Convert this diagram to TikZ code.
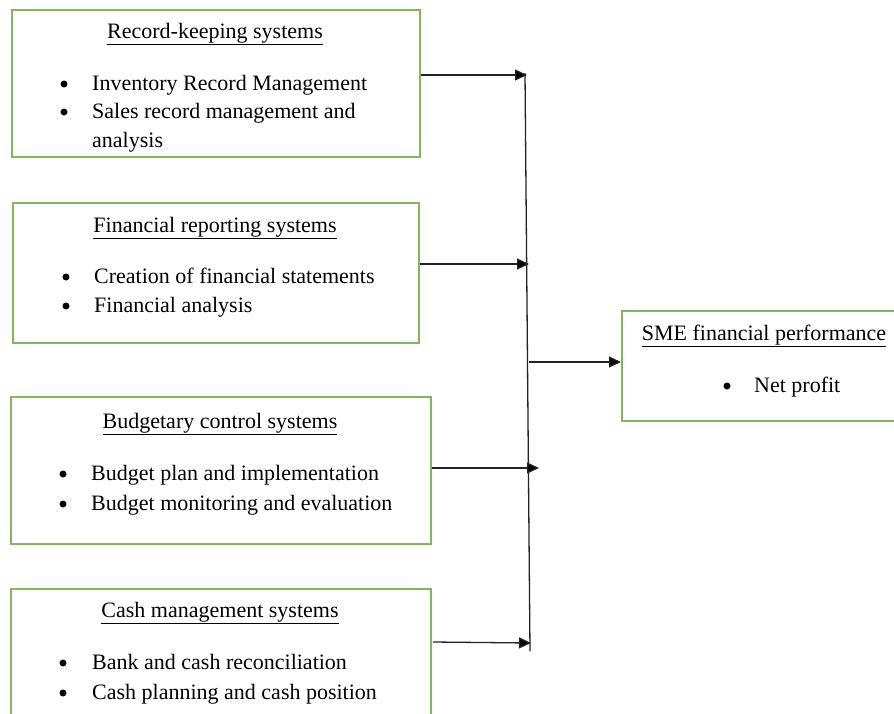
\documentclass[tikz,border=0pt]{standalone}
\usepackage{fontspec}
\setmainfont{Liberation Serif}
\usetikzlibrary{arrows.meta}
\definecolor{boxgreen}{RGB}{128,184,90}
\definecolor{linegray}{RGB}{35,35,35}
\begin{document}
\begin{tikzpicture}[x=1pt,y=-1pt,
  framebox/.style={draw=boxgreen,line width=1.6pt,inner sep=0pt,anchor=north west},
  heading/.style={font=\fontsize{22}{26}\selectfont,anchor=base,inner sep=0pt},
  item/.style={font=\fontsize{22}{26}\selectfont,anchor=base west,inner sep=0pt},
  dot/.style={circle,fill=black,inner sep=0pt,minimum size=7pt},
  link/.style={draw=linegray,line width=1.3pt,-{Triangle[length=12pt,width=11pt,fill=black]}}]
\useasboundingbox (0,0) rectangle (894,713);
\begin{scope}
\clip (0,0) rectangle (894,713);

% input boxes
\node[framebox,minimum width=408pt,minimum height=147pt] (rk) at (11,9) {};
\node[framebox,minimum width=406pt,minimum height=140pt] (fr) at (12,202) {};
\node[framebox,minimum width=420pt,minimum height=147pt] (bc) at (10,396) {};
\node[framebox,minimum width=420pt,minimum height=160pt] (cm) at (10,588) {};
% outcome box
\node[framebox,minimum width=290pt,minimum height=110pt] (sme) at (621,310) {};

% record-keeping systems
\node[heading] (rkh) at (215,38) {\underline{Record-keeping systems}};
\node[dot] (rkd1) at (64,84) {};
\node[item] (rki1) at (92,90) {Inventory Record Management};
\node[dot] (rkd2) at (64,112) {};
\node[item] (rki2) at (92,118) {Sales record management and};
\node[item] (rki3) at (92,147) {analysis};

% financial reporting systems
\node[heading] (frh) at (215,232) {\underline{Financial reporting systems}};
\node[dot] (frd1) at (66,277) {};
\node[item] (fri1) at (94,283) {Creation of financial statements};
\node[dot] (frd2) at (66,306) {};
\node[item] (fri2) at (94,312) {Financial analysis};

% budgetary control systems
\node[heading] (bch) at (220,428) {\underline{Budgetary control systems}};
\node[dot] (bcd1) at (63,474) {};
\node[item] (bci1) at (91,480) {Budget plan and implementation};
\node[dot] (bcd2) at (63,504) {};
\node[item] (bci2) at (91,510) {Budget monitoring and evaluation};

% cash management systems
\node[heading] (cmh) at (220,617) {\underline{Cash management systems}};
\node[dot] (cmd1) at (63,663) {};
\node[item] (cmi1) at (92,669) {Bank and cash reconciliation};
\node[dot] (cmd2) at (63,693) {};
\node[item] (cmi2) at (92,699) {Cash planning and cash position};

% SME financial performance
\node[heading] (smeh) at (764,340) {\underline{SME financial performance}};
\node[dot] (smed) at (727,386) {};
\node[item] (smei) at (754,392) {Net profit};

% collecting bus
\coordinate (bustop) at (525,73);
\coordinate (busbot) at (530,651);
\draw[draw=linegray,line width=1.3pt] (bustop) -- (busbot);
\coordinate (j1) at (527,75);
\coordinate (j2) at (529,264);
\coordinate (j3) at (539,468);
\coordinate (j4) at (531,643);
\coordinate (jo) at (529,362);

\draw[link] (rk.east |- j1) -- (j1);
\draw[link] (fr.east |- j2) -- (j2);
\draw[link] (bc.east |- j3) -- (j3);
\draw[link] (433,642) -- (j4);
\draw[link] (jo) -- (sme.west |- jo);
\end{scope}
\end{tikzpicture}
\end{document}
